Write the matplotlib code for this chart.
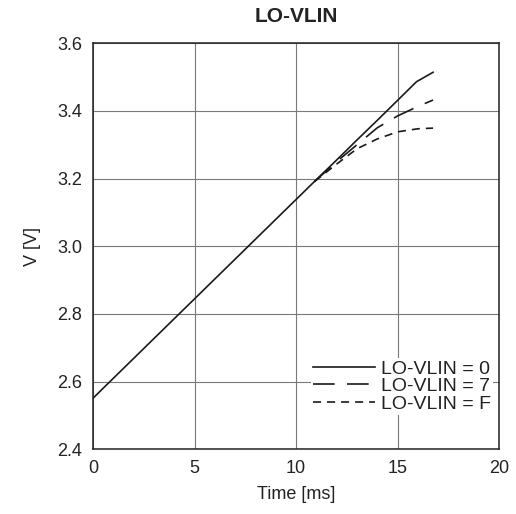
import matplotlib
matplotlib.use('Agg')
import matplotlib.pyplot as plt

plt.rcParams['font.family'] = ['Liberation Sans', 'DejaVu Sans']
plt.rcParams['lines.scale_dashes'] = False

# values
time_ms = [0, 11, 12, 13, 14, 15, 15.93, 16.75]
v_lovlin_0 = [2.552, 3.197, 3.255, 3.314, 3.372, 3.431, 3.486, 3.514]
# the dashed curves only show where they leave the solid one
time_ms_split = [10.9, 12, 13, 14, 15, 16, 16.75]
v_lovlin_7 = [3.191, 3.250, 3.300, 3.350, 3.385, 3.413, 3.432]
v_lovlin_f = [3.191, 3.243, 3.288, 3.317, 3.338, 3.347, 3.349]

labels = ['LO-VLIN = 0', 'LO-VLIN = 7', 'LO-VLIN = F']
x_ticks = [0, 5, 10, 15, 20]
y_ticks = [2.4, 2.6, 2.8, 3.0, 3.2, 3.4, 3.6]

fig = plt.figure(figsize=(5.16, 5.14), dpi=100)
ax = fig.add_axes([0.181, 0.126, 0.786, 0.790])

ax.plot(time_ms, v_lovlin_0, color='#1a1a1a', linewidth=1.2, label=labels[0])
ax.plot(time_ms_split, v_lovlin_7, color='#1a1a1a', linewidth=1.2,
        dashes=(15.6, 8.9), label=labels[1])
ax.plot(time_ms_split, v_lovlin_f, color='#1a1a1a', linewidth=1.2,
        dashes=(5.8, 4.3), label=labels[2])

ax.set_xlim(0, 20)
ax.set_ylim(2.4, 3.6)
ax.set_xticks(x_ticks)
ax.set_yticks(y_ticks)
ax.set_yticklabels(['%.1f' % v for v in y_ticks])
ax.tick_params(length=0, labelsize=13, pad=8, colors='#222222')
ax.grid(True, color='#7a7a7a', linewidth=0.8)
ax.set_axisbelow(True)
for sp in ax.spines.values():
    sp.set_linewidth(1.1)
    sp.set_color('#222222')

ax.set_title('LO-VLIN', fontsize=15, fontweight='bold', pad=15, color='#222222')
ax.set_xlabel('Time [ms]', fontsize=13, labelpad=6, color='#222222')
ax.set_ylabel('V [V]', fontsize=13, labelpad=12, color='#222222')

leg = ax.legend(loc='lower right', bbox_to_anchor=(0.985, 0.085), fontsize=14,
                frameon=True, handlelength=3.2, handletextpad=0.3,
                labelspacing=0.0, borderpad=0.1, borderaxespad=0.0)
leg.get_frame().set_facecolor('white')
leg.get_frame().set_edgecolor('none')
leg.get_frame().set_alpha(1.0)
for t in leg.get_texts():
    t.set_color('#222222')

fig.savefig('out.png', dpi=100)
